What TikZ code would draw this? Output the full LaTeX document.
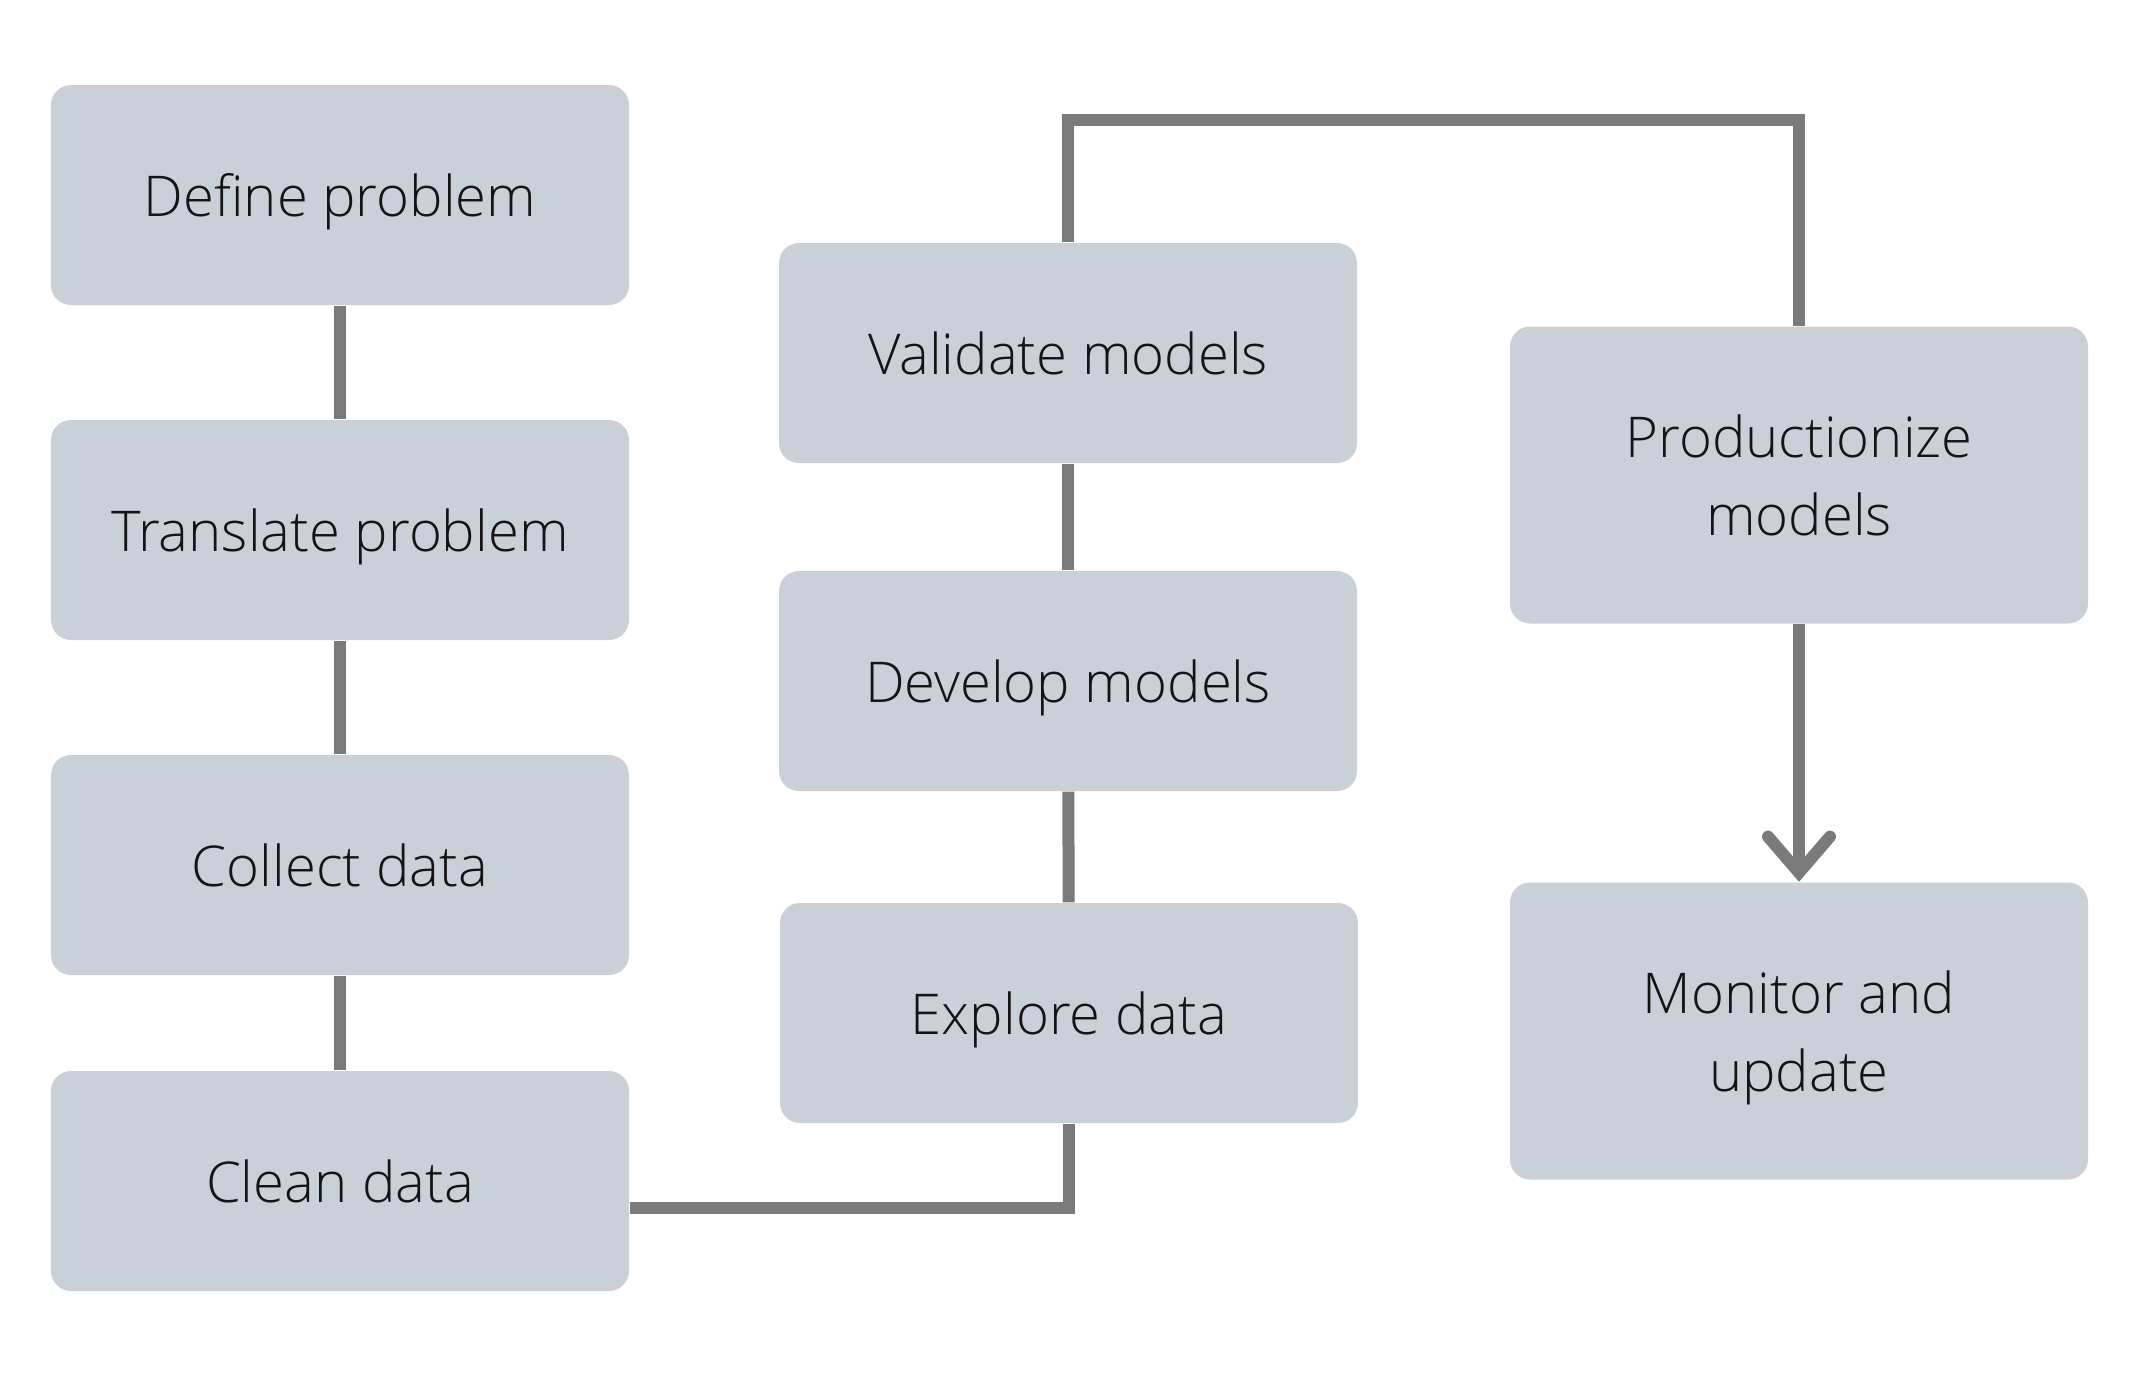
\documentclass[tikz,border=0pt]{standalone}
\usepackage{fontspec}
\setmainfont{Open Sans Light}
\usepackage{tikz}
\usetikzlibrary{positioning,arrows.meta}
\definecolor{boxgray}{RGB}{201,208,216}
\definecolor{linegray}{RGB}{122,122,122}
\definecolor{txtgray}{RGB}{20,20,20}

\begin{document}
\begin{tikzpicture}[
    % Box styles
    stage/.style={fill=boxgray, rounded corners=0.2cm, minimum width=5.78cm, minimum height=2.2cm,
                  text=txtgray, font=\fontsize{16}{22}\selectfont, align=center, inner sep=0pt,
                  text depth=0pt},
    tall/.style={stage, minimum height=2.97cm},
    % Connector styles
    link/.style={line width=0.12cm, color=linegray},
    flow/.style={link, -{Straight Barb[length=0.36cm, width=0.62cm, line cap=round]}},
  ]
  \useasboundingbox (0,0) rectangle (21.52,-13.82);

  % ===== LEFT: Problem and data =====
  \node[stage] (define) at (3.40,-1.95) {Define problem};
  \node[stage] (translate) at (3.40,-5.30) {Translate problem};
  \node[stage] (collect) at (3.40,-8.65) {Collect data};
  \node[stage] (clean) at (3.40,-11.81) {Clean data};

  % ===== CENTER: Models =====
  \node[stage] (validate) at (10.68,-3.53) {Validate models};
  \node[stage] (develop) at (10.68,-6.81) {Develop models};
  \node[stage] (explore) at (10.69,-10.13) {Explore data};

  % ===== RIGHT: Production =====
  \node[tall] (prod) at (17.99,-4.75) {Productionize\\models};
  \node[tall] (monitor) at (17.99,-10.31) {Monitor and\\update};

  % Connectors
  \draw[link] (define) -- (translate);
  \draw[link] (translate) -- (collect);
  \draw[link] (collect) -- (clean);
  \draw[link] ([yshift=-0.27cm]clean.east) -| (explore.south);
  \draw[link] (explore) -- (develop);
  \draw[link] (develop) -- (validate);
  \draw[link] (validate.north) -- ++(0,1.22) -| (prod.north);
  \draw[flow] (prod) -- (monitor);

\end{tikzpicture}
\end{document}
